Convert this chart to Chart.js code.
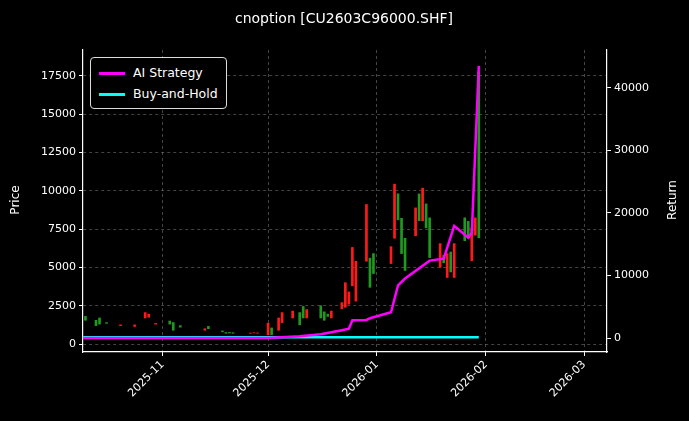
<!DOCTYPE html>
<html>
<head>
<meta charset="utf-8">
<script src="https://cdn.jsdelivr.net/npm/chart.js@4/dist/chart.umd.min.js"></script>
<style>
  html, body { margin: 0; padding: 0; background: #000; }
  #wrap { position: relative; width: 689px; height: 421px; }
  #legend {
    position: absolute; left: 90px; top: 57px; padding: 4px 8px 4px 8px;
    border: 1px solid #ddd; border-radius: 4px; background: #000;
    font: 12.5px "DejaVu Sans", sans-serif; color: #fff; line-height: 21px;
  }
  #legend span.sw { display: inline-block; width: 26px; height: 3px; vertical-align: middle; margin-right: 8px; }
</style>
</head>
<body>
<div id="wrap">
  <canvas id="chart" width="689" height="421"></canvas>
  <div id="legend">
    <div><span class="sw" style="background:#ff00ff"></span>AI Strategy</div>
    <div><span class="sw" style="background:#00ffff"></span>Buy-and-Hold</div>
  </div>
</div>
<script>
// candles: date, open, close
const candleDates = ['2025-10-10','2025-10-13','2025-10-14','2025-10-16','2025-10-20','2025-10-24','2025-10-27','2025-10-28','2025-10-30',
  '2025-11-03','2025-11-04','2025-11-06','2025-11-13','2025-11-14','2025-11-18','2025-11-19','2025-11-20','2025-11-21','2025-11-26','2025-11-27','2025-11-28',
  '2025-12-01','2025-12-02','2025-12-04','2025-12-05','2025-12-08','2025-12-10','2025-12-11','2025-12-12','2025-12-16','2025-12-17','2025-12-18','2025-12-19',
  '2025-12-22','2025-12-23','2025-12-24','2025-12-25','2025-12-26','2025-12-29','2025-12-30','2025-12-31',
  '2026-01-05','2026-01-06','2026-01-07','2026-01-08','2026-01-09','2026-01-12','2026-01-13','2026-01-14','2026-01-15','2026-01-16',
  '2026-01-19','2026-01-20','2026-01-21','2026-01-22','2026-01-23','2026-01-26','2026-01-27','2026-01-28','2026-01-29','2026-01-30'];
const candleOpen = [1800,1550,1700,1400,1200,1150,1700,1750,1300,
  1500,1400,1200,900,1150,850,750,760,740,700,720,700,
  600,1050,900,1400,1700,2050,2450,1700,2500,2100,1950,1700,
  2300,2400,2600,3800,2800,5400,5600,5900,
  5250,6900,9800,8200,6900,7060,9790,8040,9140,8230,
  5000,5800,4340,6000,4340,8230,8000,5440,7100,17760];
const candleClose = [1550,1200,1300,1350,1250,1250,2050,1950,1350,
  1300,900,1100,1000,1000,800,700,720,700,720,740,720,
  1360,600,1700,2050,2150,1250,1700,2250,1700,1550,1800,2150,
  2700,4000,3400,6300,5400,9100,3700,4600,
  6350,10430,8100,5900,4800,8880,8040,10170,7580,5640,
  6550,5300,5900,4700,6550,6740,6900,7580,8230,6930];

// strategy curves
const lineDates = ['2025-10-09','2025-12-01','2025-12-10','2025-12-16','2025-12-22','2025-12-24','2025-12-25','2025-12-29','2025-12-30',
  '2026-01-05','2026-01-07','2026-01-09','2026-01-16','2026-01-20','2026-01-23','2026-01-27','2026-01-28','2026-01-30'];
const aiReturn = [0,0,300,600,1270,1500,2860,2900,3170,4130,8410,9520,12380,12700,17940,16030,16830,43500];
const bhReturn = [150,150,150,150,150,150,150,150,150,150,150,150,150,150,150,150,150,150];

const monthTicks = ['2025-11-01','2025-12-01','2026-01-01','2026-02-01','2026-03-01'];
const priceTicks = [0,2500,5000,7500,10000,12500,15000,17500];
const returnTicks = [0,10000,20000,30000,40000];

const day = s => Date.parse(s + 'T00:00:00Z') / 86400000;
const fmtMonth = v => { const d = new Date(v * 86400000); return d.getUTCFullYear() + '-' + String(d.getUTCMonth() + 1).padStart(2, '0'); };

const bodies = candleDates.map((d, i) => ({ x: day(d), y: [Math.min(candleOpen[i], candleClose[i]), Math.max(candleOpen[i], candleClose[i])] }));
const bodyColors = candleDates.map((d, i) => candleClose[i] >= candleOpen[i] ? '#ff1a1a' : '#1f9a1f');

const textPlugin = {
  id: 'texts',
  afterDraw(chart) {
    const c = chart.ctx;
    c.save();
    c.fillStyle = '#fff';
    c.font = '14px "DejaVu Sans", sans-serif';
    c.textAlign = 'center';
    c.textBaseline = 'middle';
    c.fillText('cnoption [CU2603C96000.SHF]', 344, 19);
    c.font = '12px "DejaVu Sans", sans-serif';
    c.save();
    c.translate(673, 200);
    c.rotate(-Math.PI / 2);
    c.fillText('Return', 0, 0);
    c.restore();
    c.translate(16, 200);
    c.rotate(-Math.PI / 2);
    c.fillText('Price', 0, 0);
    c.restore();
  }
};
const bgPlugin = {
  id: 'bg',
  beforeDraw(chart) {
    const c = chart.ctx;
    c.save(); c.fillStyle = '#000'; c.fillRect(0, 0, chart.width, chart.height); c.restore();
  }
};

Chart.defaults.font.family = '"DejaVu Sans", sans-serif';
Chart.defaults.font.size = 11;
Chart.defaults.color = '#fff';

const grid = { color: 'rgba(150,150,150,0.45)', drawTicks: true, tickColor: '#fff', tickLength: 4 };
const border = { color: '#fff', width: 1.2, dash: [3, 3] };
const plain = v => String(v);

new Chart(document.getElementById('chart'), {
  data: {
    datasets: [
      { type: 'bar', data: bodies, backgroundColor: bodyColors, barThickness: 2, grouped: false, yAxisID: 'y', order: 3 },
      { type: 'line', label: 'AI Strategy', data: lineDates.map((d, i) => ({ x: day(d), y: aiReturn[i] })),
        borderColor: '#ff00ff', borderWidth: 2.5, pointRadius: 0, yAxisID: 'y2', order: 1 },
      { type: 'line', label: 'Buy-and-Hold', data: lineDates.map((d, i) => ({ x: day(d), y: bhReturn[i] })),
        borderColor: '#00ffff', borderWidth: 2.5, pointRadius: 0, yAxisID: 'y2', order: 2 }
    ]
  },
  options: {
    responsive: false,
    animation: false,
    layout: { padding: { top: 50 } },
    plugins: { legend: { display: false }, tooltip: { enabled: false } },
    scales: {
      x: {
        type: 'linear', offset: false, min: day('2025-10-09') + 0.3, max: day('2026-03-07') + 0.5,
        grid: { ...grid, offset: false }, border,
        afterBuildTicks: a => { a.ticks = monthTicks.map(m => ({ value: day(m) })); },
        afterFit: a => { a.height = 69; },
        ticks: { callback: v => fmtMonth(v), maxRotation: 45, minRotation: 45, autoSkip: false, padding: 2 }
      },
      y: {
        position: 'left', min: -520, max: 19180, grid, border,
        afterBuildTicks: a => { a.ticks = priceTicks.map(v => ({ value: v })); },
        afterFit: a => { a.width = 83; },
        ticks: { padding: 3, callback: plain }
      },
      y2: {
        position: 'right', min: -2220, max: 46030,
        grid: { drawOnChartArea: false, tickColor: '#fff', tickLength: 4 }, border: { color: '#fff', width: 1.2 },
        afterBuildTicks: a => { a.ticks = returnTicks.map(v => ({ value: v })); },
        afterFit: a => { a.width = 82; },
        ticks: { padding: 3, callback: plain }
      }
    }
  },
  plugins: [bgPlugin, textPlugin]
});
</script>
</body>
</html>
